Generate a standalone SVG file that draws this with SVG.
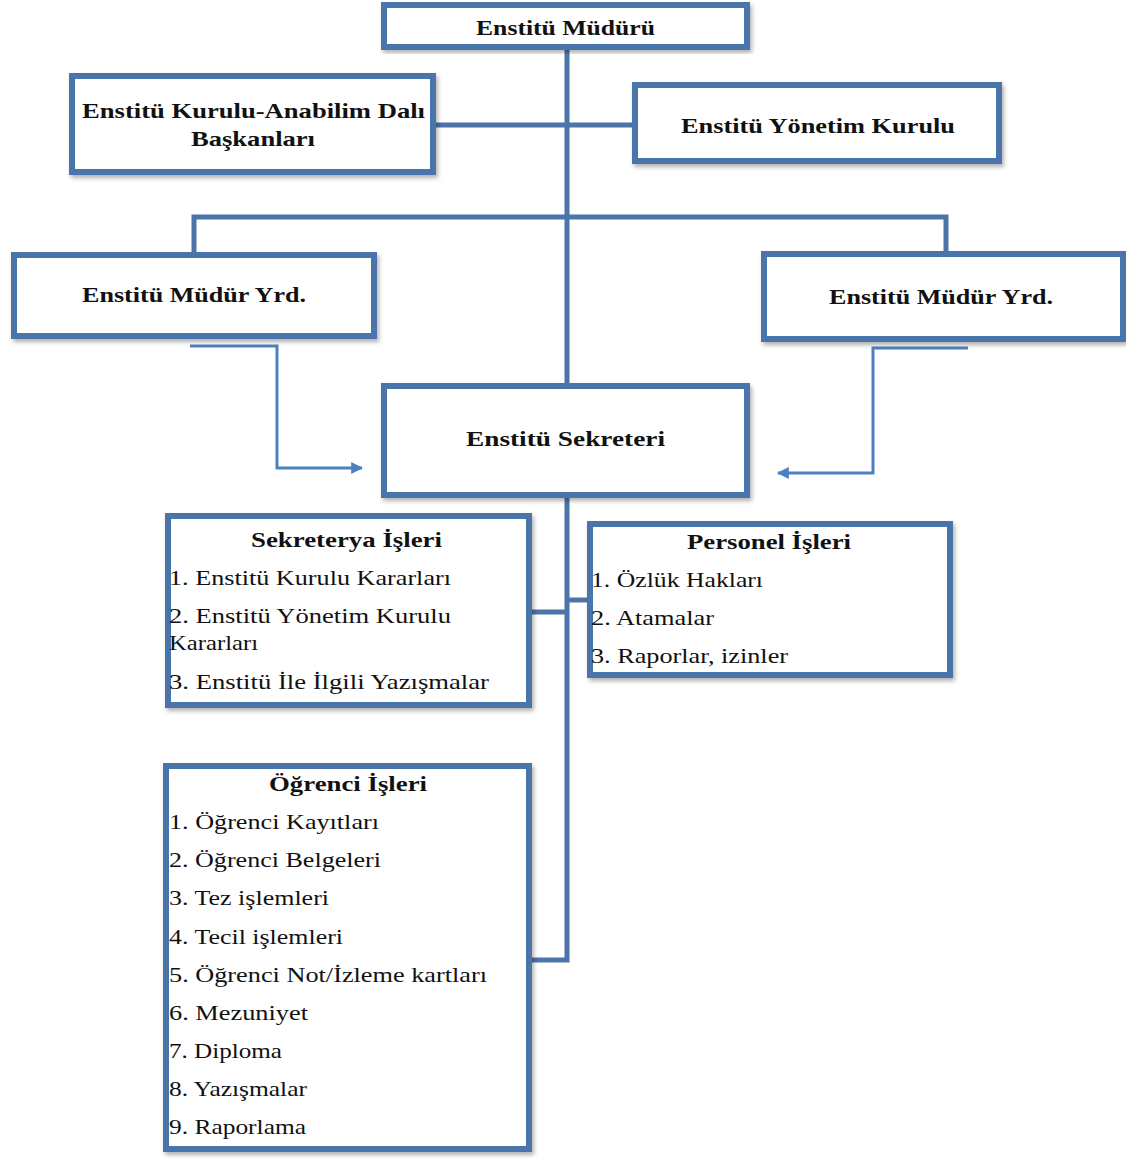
<svg xmlns="http://www.w3.org/2000/svg" width="1126" height="1158" viewBox="0 0 1126 1158">
<style>
.box{fill:#fff;stroke:#4a74aa;stroke-width:6;filter:url(#sh)}
.con{fill:none;stroke:#4a74aa;stroke-width:5}
.arr{fill:none;stroke:#4d80c0;stroke-width:3}
.t{font-weight:bold;font-size:22px;fill:#111}
.i{font-size:22px;fill:#111}
</style>
<defs>
<filter id="sh" x="-5%" y="-5%" width="112%" height="120%">
<feDropShadow dx="2" dy="3" stdDeviation="2" flood-color="#000" flood-opacity="0.3"/>
</filter>
<marker id="ah" viewBox="0 0 10 10" refX="9" refY="5" markerWidth="4" markerHeight="4" orient="auto">
<path d="M0,0 L10,5 L0,10 z" fill="#4d80c0"/>
</marker>
</defs>
<rect width="1126" height="1158" fill="#fff"/>
<g id="connectors">
<path class="con" d="M567,50 V383"/>
<path class="con" d="M436,125 H632"/>
<path class="con" d="M194,253 V217 H946 V251"/>
<path class="con" d="M567,498 V960 H532"/>
<path class="con" d="M532,612 H567"/>
<path class="con" d="M567,600 H587"/>
<path class="arr" d="M190,346 H277 V468 H362" marker-end="url(#ah)"/>
<path class="arr" d="M968,348 H873 V473 H778" marker-end="url(#ah)"/>
</g>
<g font-family="Liberation Serif, Times New Roman, serif">
<g id="mudur">
<rect class="box" x="384" y="5" width="363" height="42"/>
<text class="t" x="476" y="35" textLength="179" lengthAdjust="spacingAndGlyphs">Enstitü  Müdürü</text>
</g>
<g id="kurulu">
<rect class="box" x="72" y="76" width="361" height="96"/>
<text class="t" x="82" y="118" textLength="343" lengthAdjust="spacingAndGlyphs">Enstitü  Kurulu-Anabilim  Dalı</text>
<text class="t" x="191" y="146" textLength="124" lengthAdjust="spacingAndGlyphs">Başkanları</text>
</g>
<g id="yonetim">
<rect class="box" x="635" y="85" width="364" height="76"/>
<text class="t" x="681" y="133" textLength="274" lengthAdjust="spacingAndGlyphs">Enstitü  Yönetim  Kurulu</text>
</g>
<g id="yrd-left">
<rect class="box" x="14" y="255" width="360" height="81"/>
<text class="t" x="82" y="302" textLength="224" lengthAdjust="spacingAndGlyphs">Enstitü  Müdür  Yrd.</text>
</g>
<g id="yrd-right">
<rect class="box" x="764" y="254" width="359" height="85"/>
<text class="t" x="829" y="304" textLength="224" lengthAdjust="spacingAndGlyphs">Enstitü  Müdür  Yrd.</text>
</g>
<g id="sekreteri">
<rect class="box" x="384" y="386" width="363" height="109"/>
<text class="t" x="466" y="446" textLength="199" lengthAdjust="spacingAndGlyphs">Enstitü  Sekreteri</text>
</g>
<g id="sekreterya">
<rect class="box" x="168" y="516" width="361" height="189"/>
<text class="t" x="251" y="547" textLength="191" lengthAdjust="spacingAndGlyphs">Sekreterya İşleri</text>
<text class="i" x="169" y="585" textLength="282" lengthAdjust="spacingAndGlyphs">1. Enstitü Kurulu  Kararları</text>
<text class="i" x="169" y="623" textLength="282" lengthAdjust="spacingAndGlyphs">2. Enstitü Yönetim  Kurulu</text>
<text class="i" x="169" y="650" textLength="89" lengthAdjust="spacingAndGlyphs">Kararları</text>
<text class="i" x="169" y="689" textLength="320" lengthAdjust="spacingAndGlyphs">3.  Enstitü İle İlgili  Yazışmalar</text>
</g>
<g id="personel">
<rect class="box" x="590" y="524" width="360" height="151"/>
<text class="t" x="687" y="549" textLength="164" lengthAdjust="spacingAndGlyphs">Personel İşleri</text>
<text class="i" x="591" y="587" textLength="172" lengthAdjust="spacingAndGlyphs">1. Özlük  Hakları</text>
<text class="i" x="591" y="625" textLength="123" lengthAdjust="spacingAndGlyphs">2. Atamalar</text>
<text class="i" x="591" y="663" textLength="197" lengthAdjust="spacingAndGlyphs">3. Raporlar,  izinler</text>
</g>
<g id="ogrenci">
<rect class="box" x="166" y="766" width="363" height="383"/>
<text class="t" x="269" y="791" textLength="158" lengthAdjust="spacingAndGlyphs">Öğrenci İşleri</text>
<text class="i" x="169" y="829" textLength="210" lengthAdjust="spacingAndGlyphs">1. Öğrenci  Kayıtları</text>
<text class="i" x="169" y="867" textLength="212" lengthAdjust="spacingAndGlyphs">2. Öğrenci  Belgeleri</text>
<text class="i" x="169" y="905" textLength="160" lengthAdjust="spacingAndGlyphs">3. Tez  işlemleri</text>
<text class="i" x="169" y="944" textLength="174" lengthAdjust="spacingAndGlyphs">4. Tecil  işlemleri</text>
<text class="i" x="169" y="982" textLength="318" lengthAdjust="spacingAndGlyphs">5. Öğrenci  Not/İzleme  kartları</text>
<text class="i" x="169" y="1020" textLength="139" lengthAdjust="spacingAndGlyphs">6. Mezuniyet</text>
<text class="i" x="169" y="1058" textLength="113" lengthAdjust="spacingAndGlyphs">7. Diploma</text>
<text class="i" x="169" y="1096" textLength="138" lengthAdjust="spacingAndGlyphs">8. Yazışmalar</text>
<text class="i" x="169" y="1134" textLength="137" lengthAdjust="spacingAndGlyphs">9. Raporlama</text>
</g>
</g>
</svg>
